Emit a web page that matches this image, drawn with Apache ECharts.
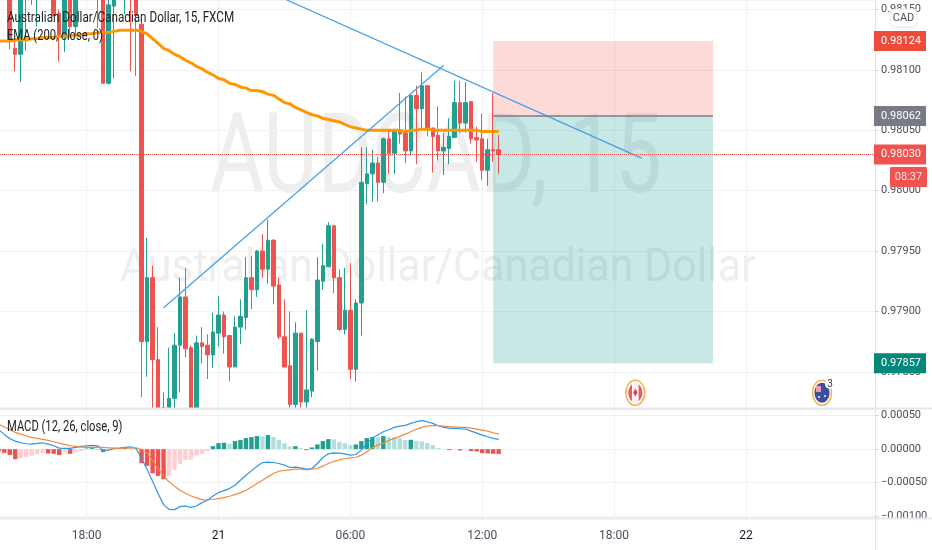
<!DOCTYPE html>
<html>
<head>
<meta charset="utf-8">
<style>html,body{margin:0;padding:0;background:#fff}#c{width:932px;height:550px}</style>
<script src="https://cdn.jsdelivr.net/npm/echarts@6/dist/echarts.min.js"></script>
</head>
<body>
<div id="c"></div>
<script>
// Axis tick labels: bar index -> text
const tickIndexes = [16, 40, 64, 88, 112, 136];
const tickLabels = ['18:00', '21', '06:00', '12:00', '18:00', '22'];
const categories = Array.from({length: 160}, (_, i) => {
  const k = tickIndexes.indexOf(i);
  return k >= 0 ? tickLabels[k] : String(i);
});

// Candles, 15 min: [open, close, low, high]
const candles = [
[0.98190,0.98180,0.98175,0.98195],[0.98185,0.98175,0.98170,0.98190],[0.98162,0.98124,0.98117,0.98170],[0.98118,0.98113,0.98099,0.98125],
[0.98113,0.98162,0.98090,0.98170],[0.98163,0.98168,0.98116,0.98172],[0.98170,0.98165,0.98154,0.98175],[0.98163,0.98168,0.98136,0.98172],
[0.98170,0.98180,0.98168,0.98185],[0.98180,0.98172,0.98168,0.98185],[0.98165,0.98145,0.98145,0.98170],[0.98147,0.98129,0.98107,0.98150],
[0.98129,0.98162,0.98115,0.98168],[0.98162,0.98136,0.98129,0.98168],[0.98136,0.98162,0.98129,0.98168],[0.98170,0.98178,0.98165,0.98182],
[0.98178,0.98170,0.98165,0.98182],[0.98172,0.98180,0.98168,0.98185],[0.98175,0.98168,0.98135,0.98180],[0.98162,0.98089,0.98089,0.98170],
[0.98089,0.98154,0.98088,0.98160],[0.98153,0.98165,0.98093,0.98170],[0.98170,0.98178,0.98165,0.98182],[0.98165,0.98172,0.98146,0.98175],
[0.98175,0.98168,0.98099,0.98180],[0.98165,0.98145,0.98095,0.98170],[0.98138,0.97875,0.97829,0.98142],[0.97875,0.97928,0.97846,0.97961],
[0.97928,0.97860,0.97812,0.97938],[0.97860,0.97805,0.97800,0.97887],[0.97818,0.97806,0.97800,0.97833],[0.97805,0.97828,0.97800,0.97870],
[0.97828,0.97872,0.97810,0.97882],[0.97872,0.97912,0.97833,0.97928],[0.97912,0.97869,0.97862,0.97936],[0.97870,0.97820,0.97818,0.97872],
[0.97820,0.97874,0.97818,0.97880],[0.97874,0.97871,0.97857,0.97887],[0.97872,0.97864,0.97844,0.97881],[0.97864,0.97883,0.97853,0.97899],
[0.97882,0.97897,0.97871,0.97913],[0.97897,0.97879,0.97865,0.97900],[0.97880,0.97854,0.97842,0.97880],[0.97854,0.97887,0.97854,0.97896],
[0.97887,0.97896,0.97873,0.97910],[0.97895,0.97928,0.97885,0.97945],[0.97928,0.97918,0.97902,0.97946],[0.97918,0.97950,0.97912,0.97951],
[0.97950,0.97935,0.97928,0.97964],[0.97935,0.97959,0.97923,0.97976],[0.97959,0.97921,0.97906,0.97960],[0.97922,0.97879,0.97877,0.97928],
[0.97879,0.97854,0.97854,0.97910],[0.97855,0.97823,0.97815,0.97900],[0.97823,0.97882,0.97815,0.97891],[0.97882,0.97825,0.97815,0.97882],
[0.97825,0.97835,0.97815,0.97901],[0.97834,0.97877,0.97829,0.97878],[0.97875,0.97926,0.97851,0.97945],[0.97925,0.97938,0.97918,0.97956],
[0.97937,0.97971,0.97937,0.97974],[0.97971,0.97928,0.97915,0.97971],[0.97928,0.97885,0.97884,0.97935],[0.97885,0.97901,0.97881,0.97936],
[0.97901,0.97852,0.97844,0.97940],[0.97852,0.97907,0.97842,0.97910],[0.97907,0.98007,0.97880,0.98036],[0.98006,0.98014,0.97989,0.98036],
[0.98014,0.98023,0.97991,0.98034],[0.98023,0.98007,0.97991,0.98028],[0.98007,0.98043,0.97998,0.98044],[0.98043,0.98031,0.98014,0.98051],
[0.98031,0.98050,0.98014,0.98051],[0.98050,0.98047,0.98039,0.98081],[0.98048,0.98033,0.98023,0.98078],[0.98033,0.98079,0.98029,0.98079],
[0.98079,0.98068,0.98022,0.98087],[0.98068,0.98087,0.98050,0.98098],[0.98087,0.98051,0.98045,0.98087],[0.98052,0.98045,0.98015,0.98052],
[0.98046,0.98033,0.98025,0.98070],[0.98033,0.98036,0.98013,0.98048],[0.98035,0.98045,0.98022,0.98060],[0.98044,0.98073,0.98044,0.98091],
[0.98073,0.98056,0.98048,0.98091],[0.98056,0.98073,0.98048,0.98090],[0.98074,0.98043,0.98039,0.98074],[0.98044,0.98042,0.98024,0.98053],
[0.98043,0.98017,0.98009,0.98064],[0.98017,0.98034,0.98004,0.98043],[0.98034,0.98033,0.98024,0.98081],[0.98034,0.98030,0.98014,0.98046]
];

const ema200 = [
0.98124,0.98124,0.98124,0.98125,0.98125,0.98125,0.98126,0.98126,0.98127,0.98127,
0.98127,0.98128,0.98128,0.98128,0.98129,0.98129,0.98130,0.98130,0.98131,0.98131,
0.98131,0.98132,0.98133,0.98133,0.98133,0.98133,0.98132,0.98130,0.98126,0.98122,
0.98118,0.98116,0.98113,0.98111,0.98108,0.98106,0.98103,0.98101,0.98098,0.98096,
0.98093,0.98092,0.98089,0.98088,0.98086,0.98085,0.98083,0.98083,0.98082,0.98080,
0.98079,0.98076,0.98073,0.98072,0.98069,0.98067,0.98065,0.98063,0.98062,0.98060,
0.98059,0.98058,0.98057,0.98055,0.98053,0.98052,0.98051,0.98050,0.98050,0.98050,
0.98050,0.98050,0.98050,0.98050,0.98049,0.98050,0.98050,0.98051,0.98051,0.98050,
0.98050,0.98050,0.98050,0.98050,0.98050,0.98050,0.98050,0.98050,0.98049,0.98049,0.98049,0.98049
];

// Indicator values, in units of 0.00001
const macdLine = [
29,22,16,12,9.5,8,7.5,8.5,9.5,7.5,5,1.5,1,1,2.5,4,5,5.5,5,-2,-1.5,1,1.5,2.5,3.5,1,-14,-30,-48,-66.5,-83,-90,-90.5,-86,-85,-87,-85,-80,-76.5,-70,-65,-62,-59,-54,-46.5,-39,-32.5,-25.5,-20,-19.5,-20,-21.5,-24,-27.5,-27,-28,-30,-29,-21.5,-12.5,-7,-5.5,-6,-7,-9,-8,-1.5,8.5,16.5,21,26,29,32.5,34.5,35.5,38.5,41,42.5,41,38.5,35,32.5,31.5,31,30.5,30,27,24,21,18.5,16,14.5
];
const signalLine = [
37,33,29.5,25,22.5,20,17.5,16,14.5,13,11,9,7,5,4,3,2.5,2.5,3,2.5,2,1.5,1,1.5,2,2,-0.5,-5.5,-17,-29,-40,-49,-55.5,-61.5,-66,-70,-73,-75.5,-76,-75,-74,-72.5,-70.5,-68,-65,-61.5,-56.5,-51.5,-46.5,-41.5,-36.5,-33,-32,-31,-30,-30,-31,-30,-29,-25.5,-21.5,-18.5,-16,-14,-13,-12.5,-9,-4,1.5,6,9,13,16,19,22.5,26,29.5,32.5,34.5,35,35,34.5,33.5,33,32.5,32.5,31.5,30,28.5,27,24.5,22.5
];
const histogram = [
-3,-5.5,-9,-15,-13.5,-11.5,-10,-7.5,-5.5,-6.5,-7,-9,-4,-7,-4,-2.5,0.8,1.5,-0.5,-4.5,-1.5,-0.8,-0.4,3,1.5,0.8,-21,-25,-36,-40,-45,-40,-31,-22,-16,-15.5,-9,-7,-3,4.5,9,9.5,8,12,13.5,16.5,18,19.5,19,21,18,14,9,4,4.5,1.5,-1.5,2.5,7,12,15,14.5,11,9,6,7,12,16.5,18,17.5,19.5,18,17.5,16.5,13.5,14,12,11.5,9,6,1.5,0.3,-1.5,-0.5,-2,-0.5,-3,-3.5,-6,-6.5,-7,-7.2
];

// Drawings
const risingTrend = [[30, 0.97903], [81, 0.98104]];
const fallingTrend = [[50, 0.98163], [117, 0.98027]];
const zoneStart = 90, zoneEnd = 130;
const stopPrice = 0.98124, entryPrice = 0.98062, lastPrice = 0.98030, targetPrice = 0.97857;
const priceMin = 0.97820, priceMax = 0.98158;

const UP = '#22a08f', DOWN = '#ef5350';
const FONT = 'Roboto, sans-serif';
const pts = a => a.map(v => v / 100000);
const histVals = pts(histogram);
// Candles are cut at the lower edge of the price pane
const visibleCandles = candles.map(c => c.map(v => Math.max(v, priceMin)));

function priceTag(price, color) {
  return {
    yAxis: price,
    lineStyle: {color: 'rgba(0,0,0,0)', width: 1},
    label: {show: true, position: 'end', distance: -1, formatter: price.toFixed(5), color: '#fff',
      backgroundColor: color, fontFamily: FONT, fontSize: 11, align: 'left',
      padding: [5, 6, 4, 7], width: 39}
  };
}

const chart = echarts.init(document.getElementById('c'), null, {renderer: 'canvas'});
const isTick = i => tickIndexes.indexOf(i) >= 0;
const gridLine = {lineStyle: {color: '#f0f1f4', width: 1}};

function sideAxisLabel() {
  return {show: true, color: '#4a4e59', fontFamily: FONT, fontSize: 11, margin: 6,
    showMinLabel: false, showMaxLabel: false,
    formatter: v => v.toFixed(5).replace('-', '\u2212')};
}

chart.setOption({
  animation: false,
  backgroundColor: '#fff',
  grid: [
    {left: -4, width: 879, top: 0, height: 408, outerBoundsMode: 'none'},
    {left: -4, width: 879, top: 409, height: 109, outerBoundsMode: 'none'}
  ],
  xAxis: [
    {type: 'category', gridIndex: 0, data: categories, boundaryGap: true,
     axisLine: {show: false}, axisTick: {show: false}, axisLabel: {show: false},
     splitLine: Object.assign({show: true, alignWithLabel: true, interval: isTick}, gridLine)},
    {type: 'category', gridIndex: 1, data: categories, boundaryGap: true,
     axisLine: {show: false}, axisTick: {show: false},
     axisLabel: {show: true, interval: isTick, fontFamily: FONT, fontSize: 12, margin: 12,
       color: v => (v.length <= 2 ? '#131722' : '#4a4e59'), hideOverlap: false},
     splitLine: Object.assign({show: true, alignWithLabel: true, interval: isTick}, gridLine)}
  ],
  yAxis: [
    {type: 'value', gridIndex: 0, position: 'right', min: priceMin, max: priceMax, splitNumber: 7, scale: true,
     axisLine: {show: true, lineStyle: {color: '#e0e3eb'}}, axisTick: {show: true, length: 4, lineStyle: {color: '#d4d6dc'}},
     axisLabel: sideAxisLabel(), splitLine: gridLine},
    {type: 'value', gridIndex: 1, position: 'right', min: -0.00103, max: 0.0006, splitNumber: 3, scale: true,
     axisLine: {show: true, lineStyle: {color: '#e0e3eb'}}, axisTick: {show: true, length: 4, lineStyle: {color: '#d4d6dc'}},
     axisLabel: sideAxisLabel(), splitLine: gridLine}
  ],
  series: [
    {type: 'candlestick', name: 'AUDCAD', xAxisIndex: 0, yAxisIndex: 0, data: visibleCandles, barWidth: 4, clip: true, z: 3,
     itemStyle: {color: UP, color0: DOWN, borderColor: UP, borderColor0: DOWN, borderWidth: 1},
     markArea: {silent: true, z: 1, data: [
       [{xAxis: zoneStart, yAxis: stopPrice, itemStyle: {color: 'rgba(244,67,54,0.2)'}}, {xAxis: zoneEnd, yAxis: entryPrice}],
       [{xAxis: zoneStart, yAxis: entryPrice, itemStyle: {color: 'rgba(0,150,136,0.22)'}}, {xAxis: zoneEnd, yAxis: targetPrice}]
     ]},
     markLine: {silent: true, symbol: 'none', z: 6, precision: 5, data: [
       Object.assign(priceTag(lastPrice, DOWN), {lineStyle: {color: DOWN, type: 'dotted', width: 1}}),
       priceTag(stopPrice, '#f04a3a'),
       priceTag(entryPrice, '#787b86'),
       priceTag(targetPrice, '#00897b'),
       [{xAxis: zoneStart, yAxis: entryPrice, lineStyle: {color: '#787b86', width: 1.5, type: 'solid'}, label: {show: false}},
        {xAxis: zoneEnd, yAxis: entryPrice}]
     ]}},
    {type: 'line', name: 'EMA', xAxisIndex: 0, yAxisIndex: 0, data: ema200, showSymbol: false, symbol: 'none', z: 4,
     lineStyle: {color: '#ff9800', width: 3}, clip: true},
    {type: 'line', name: 'rising', xAxisIndex: 0, yAxisIndex: 0, data: risingTrend, showSymbol: false, symbol: 'none', z: 5,
     lineStyle: {color: '#42a0ea', width: 1.2}, clip: true},
    {type: 'line', name: 'falling', xAxisIndex: 0, yAxisIndex: 0, data: fallingTrend, showSymbol: false, symbol: 'none', z: 5,
     lineStyle: {color: '#42a0ea', width: 1.2}, clip: true},
    {type: 'bar', name: 'Histogram', xAxisIndex: 1, yAxisIndex: 1, data: histVals, barWidth: 4.4, z: 2,
     itemStyle: {color: p => {
       const v = p.value, prev = p.dataIndex > 0 ? histVals[p.dataIndex - 1] : 0;
       if (v >= 0) return v >= prev ? UP : '#b2dfdb';
       return v <= prev ? DOWN : '#ffcdd2';
     }}},
    {type: 'line', name: 'MACD', xAxisIndex: 1, yAxisIndex: 1, data: pts(macdLine), showSymbol: false, symbol: 'none', z: 4,
     lineStyle: {color: '#2b96f0', width: 1.2}},
    {type: 'line', name: 'Signal', xAxisIndex: 1, yAxisIndex: 1, data: pts(signalLine), showSymbol: false, symbol: 'none', z: 5,
     lineStyle: {color: '#f58a3c', width: 1.2}}
  ],
  graphic: {elements: [
    // watermarks
    {type: 'text', z: -1, x: 210, y: 164.5, scaleX: 0.75, silent: true,
     style: {text: 'AUDCAD, 15', font: '111px Roboto, sans-serif', fill: 'rgba(120,123,134,0.13)', textVerticalAlign: 'middle'}},
    {type: 'text', z: -1, x: 120, y: 269.5, scaleX: 0.915, silent: true,
     style: {text: 'Australian Dollar/Canadian Dollar', font: '47px Roboto, sans-serif', fill: 'rgba(120,123,134,0.13)', textVerticalAlign: 'middle'}},
    // legends
    {type: 'text', z: 50, x: 7, y: 18, scaleX: 0.835, silent: true,
     style: {text: 'Australian Dollar/Canadian Dollar, 15, FXCM', font: '14px Roboto, sans-serif', fill: '#222', textVerticalAlign: 'middle'}},
    {type: 'text', z: 50, x: 7, y: 36, scaleX: 0.8, silent: true,
     style: {text: 'EMA (200, close, 0)', font: '14px Roboto, sans-serif', fill: '#222', textVerticalAlign: 'middle'}},
    {type: 'text', z: 50, x: 7, y: 427, scaleX: 0.8, silent: true,
     style: {text: 'MACD (12, 26, close, 9)', font: '14px Roboto, sans-serif', fill: '#222', textVerticalAlign: 'middle'}},
    // separators
    {type: 'line', z: 60, silent: true, shape: {x1: 0, y1: 408.5, x2: 932, y2: 408.5}, style: {stroke: '#e6e7ea', lineWidth: 2}},
    {type: 'rect', z: 59, silent: true, shape: {x: 876, y: 519, width: 56, height: 31}, style: {fill: '#fff'}},
    {type: 'line', z: 60, silent: true, shape: {x1: 0, y1: 518.5, x2: 932, y2: 518.5}, style: {stroke: '#e6e7ea', lineWidth: 2}},
    {type: 'line', z: 60, silent: true, shape: {x1: 875.5, y1: 518, x2: 875.5, y2: 550}, style: {stroke: '#e0e3eb', lineWidth: 1}},
    // CAD box
    {type: 'rect', z: 70, silent: true, shape: {x: 890, y: 9, width: 27, height: 18, r: 4}, style: {fill: '#fff', stroke: '#e4e6ec', lineWidth: 1}},
    {type: 'text', z: 71, x: 903.5, y: 18, silent: true,
     style: {text: 'CAD', font: '11px Roboto, sans-serif', fill: '#4a4e59', textAlign: 'center', textVerticalAlign: 'middle'}},
    // countdown
    {type: 'rect', z: 70, silent: true, shape: {x: 890, y: 167, width: 37, height: 20, r: 1}, style: {fill: '#ef5350'}},
    {type: 'text', z: 71, x: 908.5, y: 177, silent: true,
     style: {text: '08:37', font: '11px Roboto, sans-serif', fill: '#ffe3e3', textAlign: 'center', textVerticalAlign: 'middle'}},
    // Canada event
    {type: 'ellipse', z: 40, silent: true, shape: {cx: 635.3, cy: 392.7, rx: 9.5, ry: 12.5}, style: {fill: '#fff', stroke: '#f7b04c', lineWidth: 1.5}},
    {type: 'ellipse', z: 41, silent: true, shape: {cx: 635.3, cy: 392.7, rx: 7, ry: 9.5}, style: {fill: '#ea5a6c'}},
    {type: 'rect', z: 42, silent: true, shape: {x: 632, y: 383, width: 6.6, height: 19.5}, style: {fill: '#fdf3f4'}},
    {type: 'polygon', z: 43, silent: true, shape: {points: [[635.3, 388.5], [637.5, 392.5], [635.3, 396.5], [633.1, 392.5]]}, style: {fill: '#e0404f'}},
    // Australia event
    {type: 'ellipse', z: 40, silent: true, shape: {cx: 822, cy: 392.7, rx: 9.5, ry: 12.5}, style: {fill: '#fff', stroke: '#f7b04c', lineWidth: 1.5}},
    {type: 'ellipse', z: 41, silent: true, shape: {cx: 822, cy: 392.7, rx: 7.5, ry: 10}, style: {fill: '#3f4ea3'}},
    {type: 'rect', z: 42, silent: true, shape: {x: 816, y: 386, width: 5, height: 6}, style: {fill: '#e9a0ae'}},
    {type: 'circle', z: 42, silent: true, shape: {cx: 819, cy: 397, r: 1}, style: {fill: '#fff'}},
    {type: 'circle', z: 42, silent: true, shape: {cx: 825, cy: 396, r: 1}, style: {fill: '#fff'}},
    {type: 'circle', z: 44, silent: true, shape: {cx: 830, cy: 384, r: 5}, style: {fill: '#fff'}},
    {type: 'text', z: 45, x: 830, y: 384, silent: true,
     style: {text: '3', font: '10px Roboto, sans-serif', fill: '#333', textAlign: 'center', textVerticalAlign: 'middle'}}
  ]}
});
</script>
</body>
</html>
